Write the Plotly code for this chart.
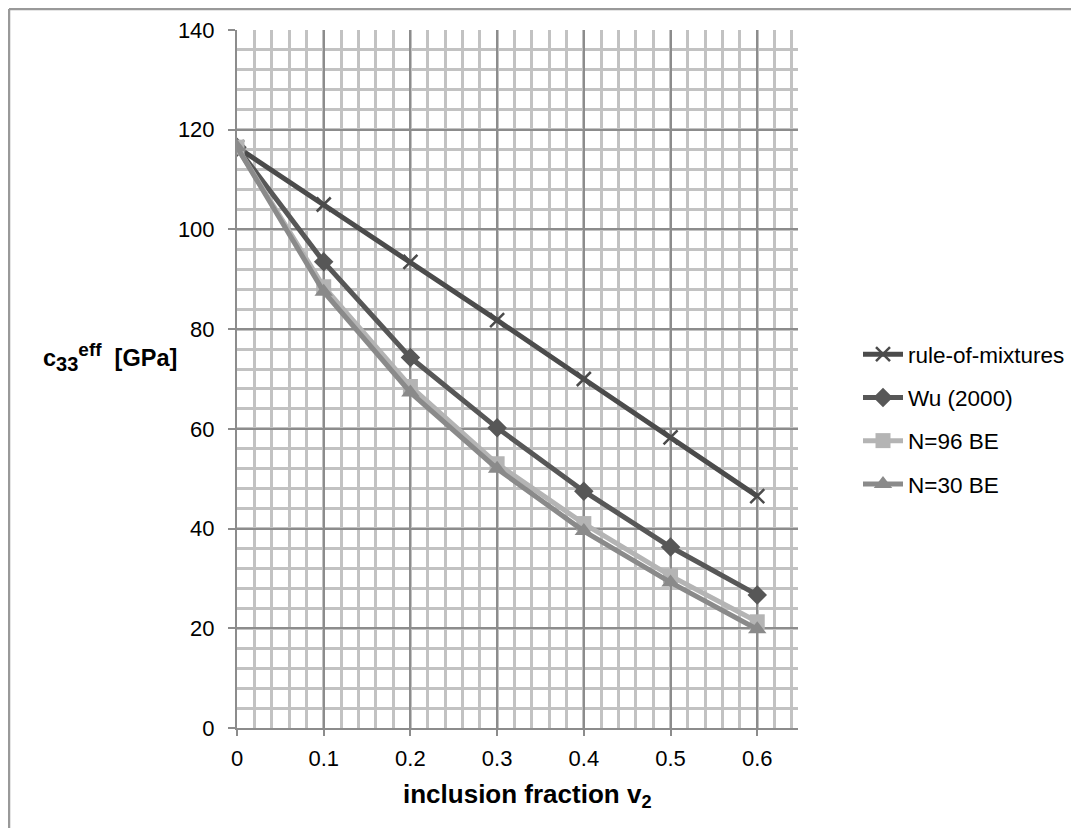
import plotly.graph_objects as go

v2 = [0, 0.1, 0.2, 0.3, 0.4, 0.5, 0.6]
rule_of_mixtures = [116.5, 105.0, 93.5, 81.8, 70.0, 58.3, 46.5]
wu_2000 = [116.5, 93.5, 74.3, 60.2, 47.5, 36.3, 26.7]
n96_be = [116.5, 88.5, 68.5, 53.0, 41.0, 30.5, 21.3]
n30_be = [116.5, 87.5, 67.3, 52.0, 39.5, 29.2, 19.8]
y_ticks = [0, 20, 40, 60, 80, 100, 120, 140]
x_ticks = [0, 0.1, 0.2, 0.3, 0.4, 0.5, 0.6]

FONT = "Liberation Sans, Arial, sans-serif"

series = [
    ("rule-of-mixtures", rule_of_mixtures, "#4b4b4b", "x-thin", 14, 2.5),
    ("Wu (2000)", wu_2000, "#575757", "diamond", 15, 0),
    ("N=96 BE", n96_be, "#b4b4b4", "square", 15, 0),
    ("N=30 BE", n30_be, "#8a8a8a", "triangle-up", 16, 0),
]

fig = go.Figure()
for i, (name, ys, col, sym, size, mlw) in enumerate(series):
    fig.add_trace(go.Scatter(
        x=v2, y=ys, name=name, mode="lines+markers",
        line=dict(color=col, width=5),
        marker=dict(symbol=sym, size=size, color=col,
                    line=dict(color=col, width=mlw)),
        legendgroup=f"g{i}",
    ))

major = "#8c8c8c"
minor = "#c2c2c2"

# figure is placed inside the page body (8px margin); sizes chosen to fit the window
W, H = 1063, 820
L, T = 229, 22          # plot area left/top inside the figure
PW, PH = 561, 698       # plot area width/height


def px(xp):
    return (xp - 8 - L) / PW


def py(yp):
    return (T + PH - (yp - 8)) / PH


ytitle = ("<b>c<sub><span style='font-size:20px'>33</span></sub>"
          "<sup><span style='font-size:19px'>eff</span></sup>"
          "&nbsp;&nbsp;[GPa]</b>")

fig.update_layout(
    width=W, height=H,
    paper_bgcolor="white", plot_bgcolor="white",
    margin=dict(l=L, r=W - L - PW, t=T, b=H - T - PH, autoexpand=False),
    font=dict(family=FONT, size=22, color="black"),
    showlegend=True,
    legend=dict(x=px(858), y=py(419), xanchor="left", yanchor="middle",
                font=dict(size=22.5, family=FONT), tracegroupgap=11,
                itemwidth=40, bgcolor="rgba(0,0,0,0)"),
    xaxis=dict(range=[0, 0.647], tickvals=x_ticks, ticktext=[str(t) for t in x_ticks],
               showgrid=True, gridcolor=major, gridwidth=2,
               minor=dict(dtick=0.02, tick0=0, showgrid=True, gridcolor=minor, gridwidth=3),
               ticks="outside", ticklen=6, tickcolor=major, tickwidth=2,
               showline=True, linecolor=major, linewidth=2,
               zeroline=False, ticklabelstandoff=4,
               tickfont=dict(size=22, family=FONT)),
    yaxis=dict(range=[0, 140], tickvals=y_ticks,
               showgrid=True, gridcolor=major, gridwidth=2,
               minor=dict(dtick=4, tick0=0, showgrid=True, gridcolor=minor, gridwidth=3),
               ticks="outside", ticklen=7, tickcolor=major, tickwidth=2,
               showline=True, linecolor=major, linewidth=2,
               zeroline=False, ticklabelstandoff=9,
               tickfont=dict(size=22, family=FONT)),
    annotations=[
        dict(text=ytitle, xref="paper", yref="paper",
             x=px(110), y=py(357), xanchor="center", yanchor="middle",
             showarrow=False, font=dict(size=23.5, family=FONT)),
        dict(text="<b>inclusion fraction v<sub>2</sub></b>", xref="paper", yref="paper",
             x=px(527), y=py(795), xanchor="center", yanchor="middle",
             showarrow=False, font=dict(size=26, family=FONT)),
    ],
    shapes=[
        dict(type="line", xref="paper", yref="paper",
             x0=px(9), x1=px(1072), y0=py(9), y1=py(9),
             line=dict(color="#999999", width=2.5), layer="below"),
        dict(type="line", xref="paper", yref="paper",
             x0=px(9), x1=px(9), y0=py(9), y1=py(900),
             line=dict(color="#999999", width=2.5), layer="below"),
    ],
)

fig.write_html("out.html")
